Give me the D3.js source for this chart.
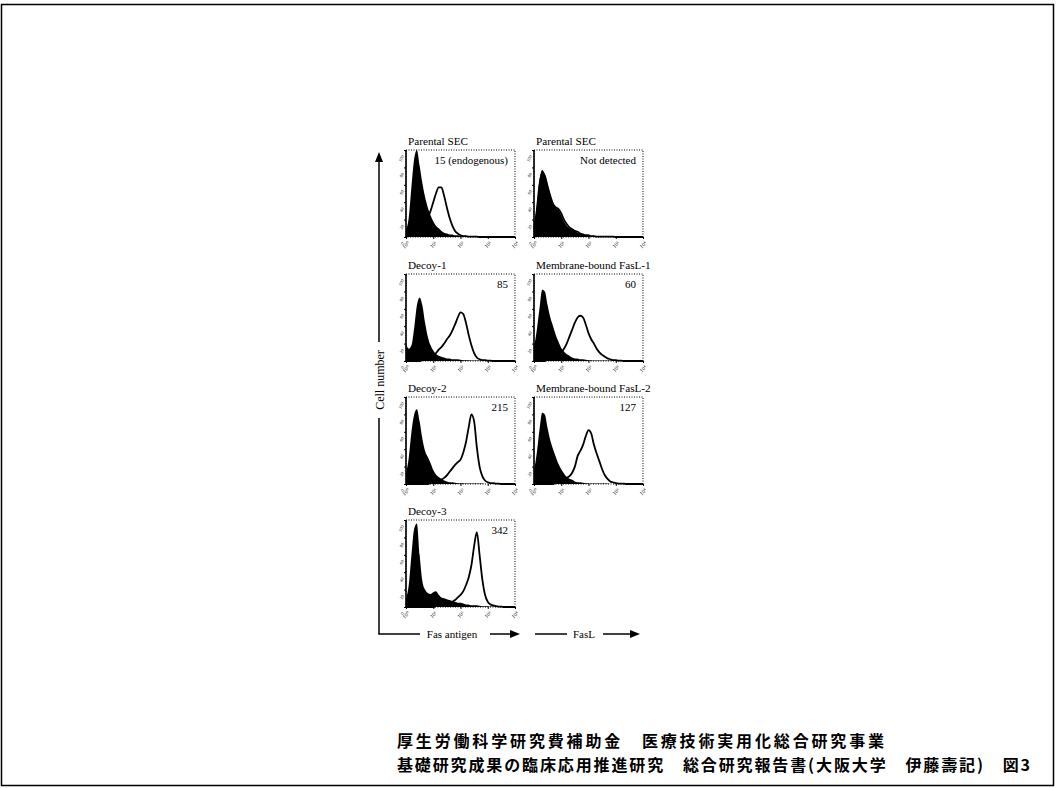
<!DOCTYPE html>
<html>
<head>
<meta charset="utf-8">
<script src="https://cdn.jsdelivr.net/npm/d3@7"></script>
<style>
  body { margin: 0; background: #fff; }
  svg { display: block; }
</style>
</head>
<body>
<div id="fig"></div>
<script>
// log10 fluorescence bin centres, 10^0 .. 10^4
var logBins = d3.range(0, 4.01, 0.1).map(function(v) { return +v.toFixed(1); });

var panelTitles = ["Parental SEC", "Parental SEC", "Decoy-1", "Membrane-bound FasL-1",
                   "Decoy-2", "Membrane-bound FasL-2", "Decoy-3"];
var panelValues = ["15 (endogenous)", "Not detected", "85", "60", "215", "127", "342"];
var panelCells = [[0, 0], [0, 1], [1, 0], [1, 1], [2, 0], [2, 1], [3, 0]]; // [row, col]

// % of full scale, one value per log bin
var controlCounts = [
  [8,22,58,90,100,82,62,46,34,25,18,13,10,7,5,4,3,3,2,2,1.5,1,1,.5,.5,.5,.5,.5,.5,.5,.5,0,0,0,0,0,0,0,0,0,0],
  [10,35,65,77,72,60,48,38,33,31,25,18,13,10,8,7,5,4,3,2,2,1,1,.5,.5,.5,.5,.5,.5,.5,.5,.5,0,0,0,0,0,0,0,0,0],
  [20,14,18,38,64,73,64,44,28,18,12,8,6,5,4,3,3,2,2,2,1.5,1,1,1,.5,.5,.5,.5,.5,.5,.5,0,0,0,0,0,0,0,0,0,0],
  [15,35,60,82,80,64,50,40,30,22,15,11,8,6,4,3,3,2,2,1.5,1,1,.5,.5,.5,.5,.5,.5,.5,0,0,0,0,0,0,0,0,0,0,0,0],
  [12,30,60,80,86,72,52,38,31,24,16,11,8,6,4,3,2,2,1.5,1,1,1,.5,.5,.5,.5,.5,.5,.5,0,0,0,0,0,0,0,0,0,0,0,0],
  [15,35,62,82,80,64,50,40,31,23,17,12,8,6,5,3,2,2,1.5,1,1,.5,.5,.5,.5,.5,.5,.5,0,0,0,0,0,0,0,0,0,0,0,0,0],
  [10,25,60,90,96,60,30,20,16,15,17,18,14,11,10,9,8,7,6,5,5,4,3,3,2,2,2,1.5,1,1,1,.5,.5,.5,0,0,0,0,0,0,0]
];
var stainedCounts = [
  [0,2,5,8,10,12,14,17,22,30,40,50,57,57,47,34,22,13,7,4,2,1,1,.5,.5,.5,.5,0,0,0,0,0,0,0,0,0,0,0,0,0,0],
  [8,30,60,74,70,58,47,38,34,32,27,20,15,11,9,7,6,4,3,2,2,1,1,.5,.5,.5,.5,.5,.5,.5,0,0,0,0,0,0,0,0,0,0,0],
  [0,0,0,0,0,0,1,1,2,4,6,9,13,16,20,25,29,35,42,50,56,54,44,30,18,9,4,2,1,1,.5,.5,0,0,0,0,0,0,0,0,0],
  [0,0,0,0,0,2,3,4,5,7,10,14,20,28,36,44,50,52,50,42,32,25,20,14,10,7,5,3,2,1,1,.5,.5,0,0,0,0,0,0,0,0],
  [0,0,0,0,0,0,0,0,0,1,2,3,4,5,7,10,14,18,22,25,28,36,48,65,80,72,42,20,9,4,2,1,1,.5,.5,0,0,0,0,0,0],
  [0,0,0,0,0,0,0,0,1,2,3,5,7,9,13,20,32,38,45,55,62,58,45,35,26,17,10,6,3,2,1,.5,.5,.5,0,0,0,0,0,0,0],
  [0,0,0,0,0,0,0,0,0,0,0,1,1,2,2,3,4,6,8,11,14,18,25,34,48,70,86,60,32,14,6,3,2,1,.5,.5,0,0,0,0,0]
];

var xTickLabels = ["10\u2070", "10\u00b9", "10\u00b2", "10\u00b3", "10\u2074"];
var yTickLabels = ["0", "20", "40", "60", "80", "100"];
var axisTitles = ["Cell number", "Fas antigen", "FasL"];
var footerLines = ["厚生労働科学研究費補助金\u3000医療技術実用化総合研究事業",
                   "基礎研究成果の臨床応用推進研究\u3000総合研究報告書(大阪大学\u3000伊藤壽記)\u3000図3"];
var footerWidths = [487, 633];

var W = 1056, H = 788;
var svg = d3.select("#fig").append("svg").attr("width", W).attr("height", H);

// scanned page frame
svg.append("rect")
  .attr("x", 1.5).attr("y", 4.5).attr("width", 1052).attr("height", 781)
  .attr("fill", "none").attr("stroke", "#000").attr("stroke-width", 1.5);

var colX = [406, 534], rowY = [150, 274, 397, 520];
var pw = 109, ph = 87;
var serif = "'Liberation Serif', 'DejaVu Serif', serif";

var x = d3.scaleLinear().domain([0, 4]).range([0, pw]);
var y = d3.scaleLinear().domain([0, 100]).range([ph, 0]);

var area = d3.area().x(function(d, i) { return x(logBins[i]); })
  .y0(ph).y1(function(d) { return y(d); }).curve(d3.curveMonotoneX);
var line = d3.line().x(function(d, i) { return x(logBins[i]); })
  .y(function(d) { return y(d); }).curve(d3.curveMonotoneX);

panelCells.forEach(function(cell, p) {
  var g = svg.append("g")
    .attr("transform", "translate(" + colX[cell[1]] + "," + rowY[cell[0]] + ")");

  // histograms
  g.append("path").datum(controlCounts[p]).attr("d", area).attr("fill", "#000");
  g.append("path").datum(stainedCounts[p]).attr("d", line)
    .attr("fill", "none").attr("stroke", "#000").attr("stroke-width", 1.8);

  // dotted frame, solid left side
  g.append("rect").attr("width", pw).attr("height", ph)
    .attr("fill", "none").attr("stroke", "#000").attr("stroke-width", 1)
    .attr("stroke-dasharray", "1,1.5");
  g.append("line").attr("x1", 0).attr("x2", 0).attr("y1", 0).attr("y2", ph)
    .attr("stroke", "#000").attr("stroke-width", 1.6);

  // axes with tiny tick labels
  var ax = g.append("g").attr("transform", "translate(0," + ph + ")")
    .call(d3.axisBottom(x).tickValues([0, 1, 2, 3, 4]).tickSize(2)
      .tickFormat(function(d) { return xTickLabels[d]; }));
  ax.select(".domain").remove();
  ax.selectAll("text").attr("font-size", 5.5).attr("font-family", serif)
    .attr("transform", "translate(-2,1) rotate(-45)").attr("text-anchor", "end").attr("dy", "0.5em");

  var ay = g.append("g")
    .call(d3.axisLeft(y).tickValues([0, 20, 40, 60, 80, 100]).tickSize(2)
      .tickFormat(function(d, i) { return yTickLabels[i]; }));
  ay.select(".domain").remove();
  ay.selectAll("text").attr("font-size", 4.5).attr("font-family", serif)
    .attr("transform", "rotate(-60)").attr("dx", "-0.2em");

  g.append("text").attr("x", 2).attr("y", -5)
    .attr("font-family", serif).attr("font-size", 11.2).text(panelTitles[p]);
  g.append("text").attr("x", pw - 7).attr("y", 14).attr("text-anchor", "end")
    .attr("font-family", serif).attr("font-size", 11).text(panelValues[p]);
});

// global axes
function seg(x1, y1, x2, y2) {
  svg.append("line").attr("x1", x1).attr("y1", y1).attr("x2", x2).attr("y2", y2)
    .attr("stroke", "#000").attr("stroke-width", 1.5);
}
function arrowHead(tx, ty, dir) {
  var pts = dir === "up"
    ? [[tx, ty], [tx - 4, ty + 10], [tx + 4, ty + 10]]
    : [[tx, ty], [tx - 10, ty - 4], [tx - 10, ty + 4]];
  svg.append("path").attr("d", "M" + pts.join("L") + "Z").attr("fill", "#000");
}

seg(379, 160, 379, 342);
seg(379, 418, 379, 634);
seg(378.3, 634, 420, 634);
arrowHead(379, 152, "up");
svg.append("text").attr("transform", "translate(384,380) rotate(-90)")
  .attr("text-anchor", "middle").attr("font-family", serif).attr("font-size", 12)
  .text(axisTitles[0]);

seg(490, 634, 512, 634); arrowHead(520, 634, "right");
svg.append("text").attr("x", 452).attr("y", 638).attr("text-anchor", "middle")
  .attr("font-family", serif).attr("font-size", 11).text(axisTitles[1]);

seg(535, 634, 567, 634);
seg(603, 634, 632, 634); arrowHead(640, 634, "right");
svg.append("text").attr("x", 584).attr("y", 638).attr("text-anchor", "middle")
  .attr("font-family", serif).attr("font-size", 11).text(axisTitles[2]);

// footer
footerLines.forEach(function(t, i) {
  svg.append("text").attr("x", 397).attr("y", 747 + i * 23.5)
    .attr("font-family", "'Noto Sans CJK JP', sans-serif").attr("font-weight", "bold")
    .attr("font-size", 16).attr("textLength", footerWidths[i])
    .attr("lengthAdjust", "spacing").text(t);
});
</script>
</body>
</html>
